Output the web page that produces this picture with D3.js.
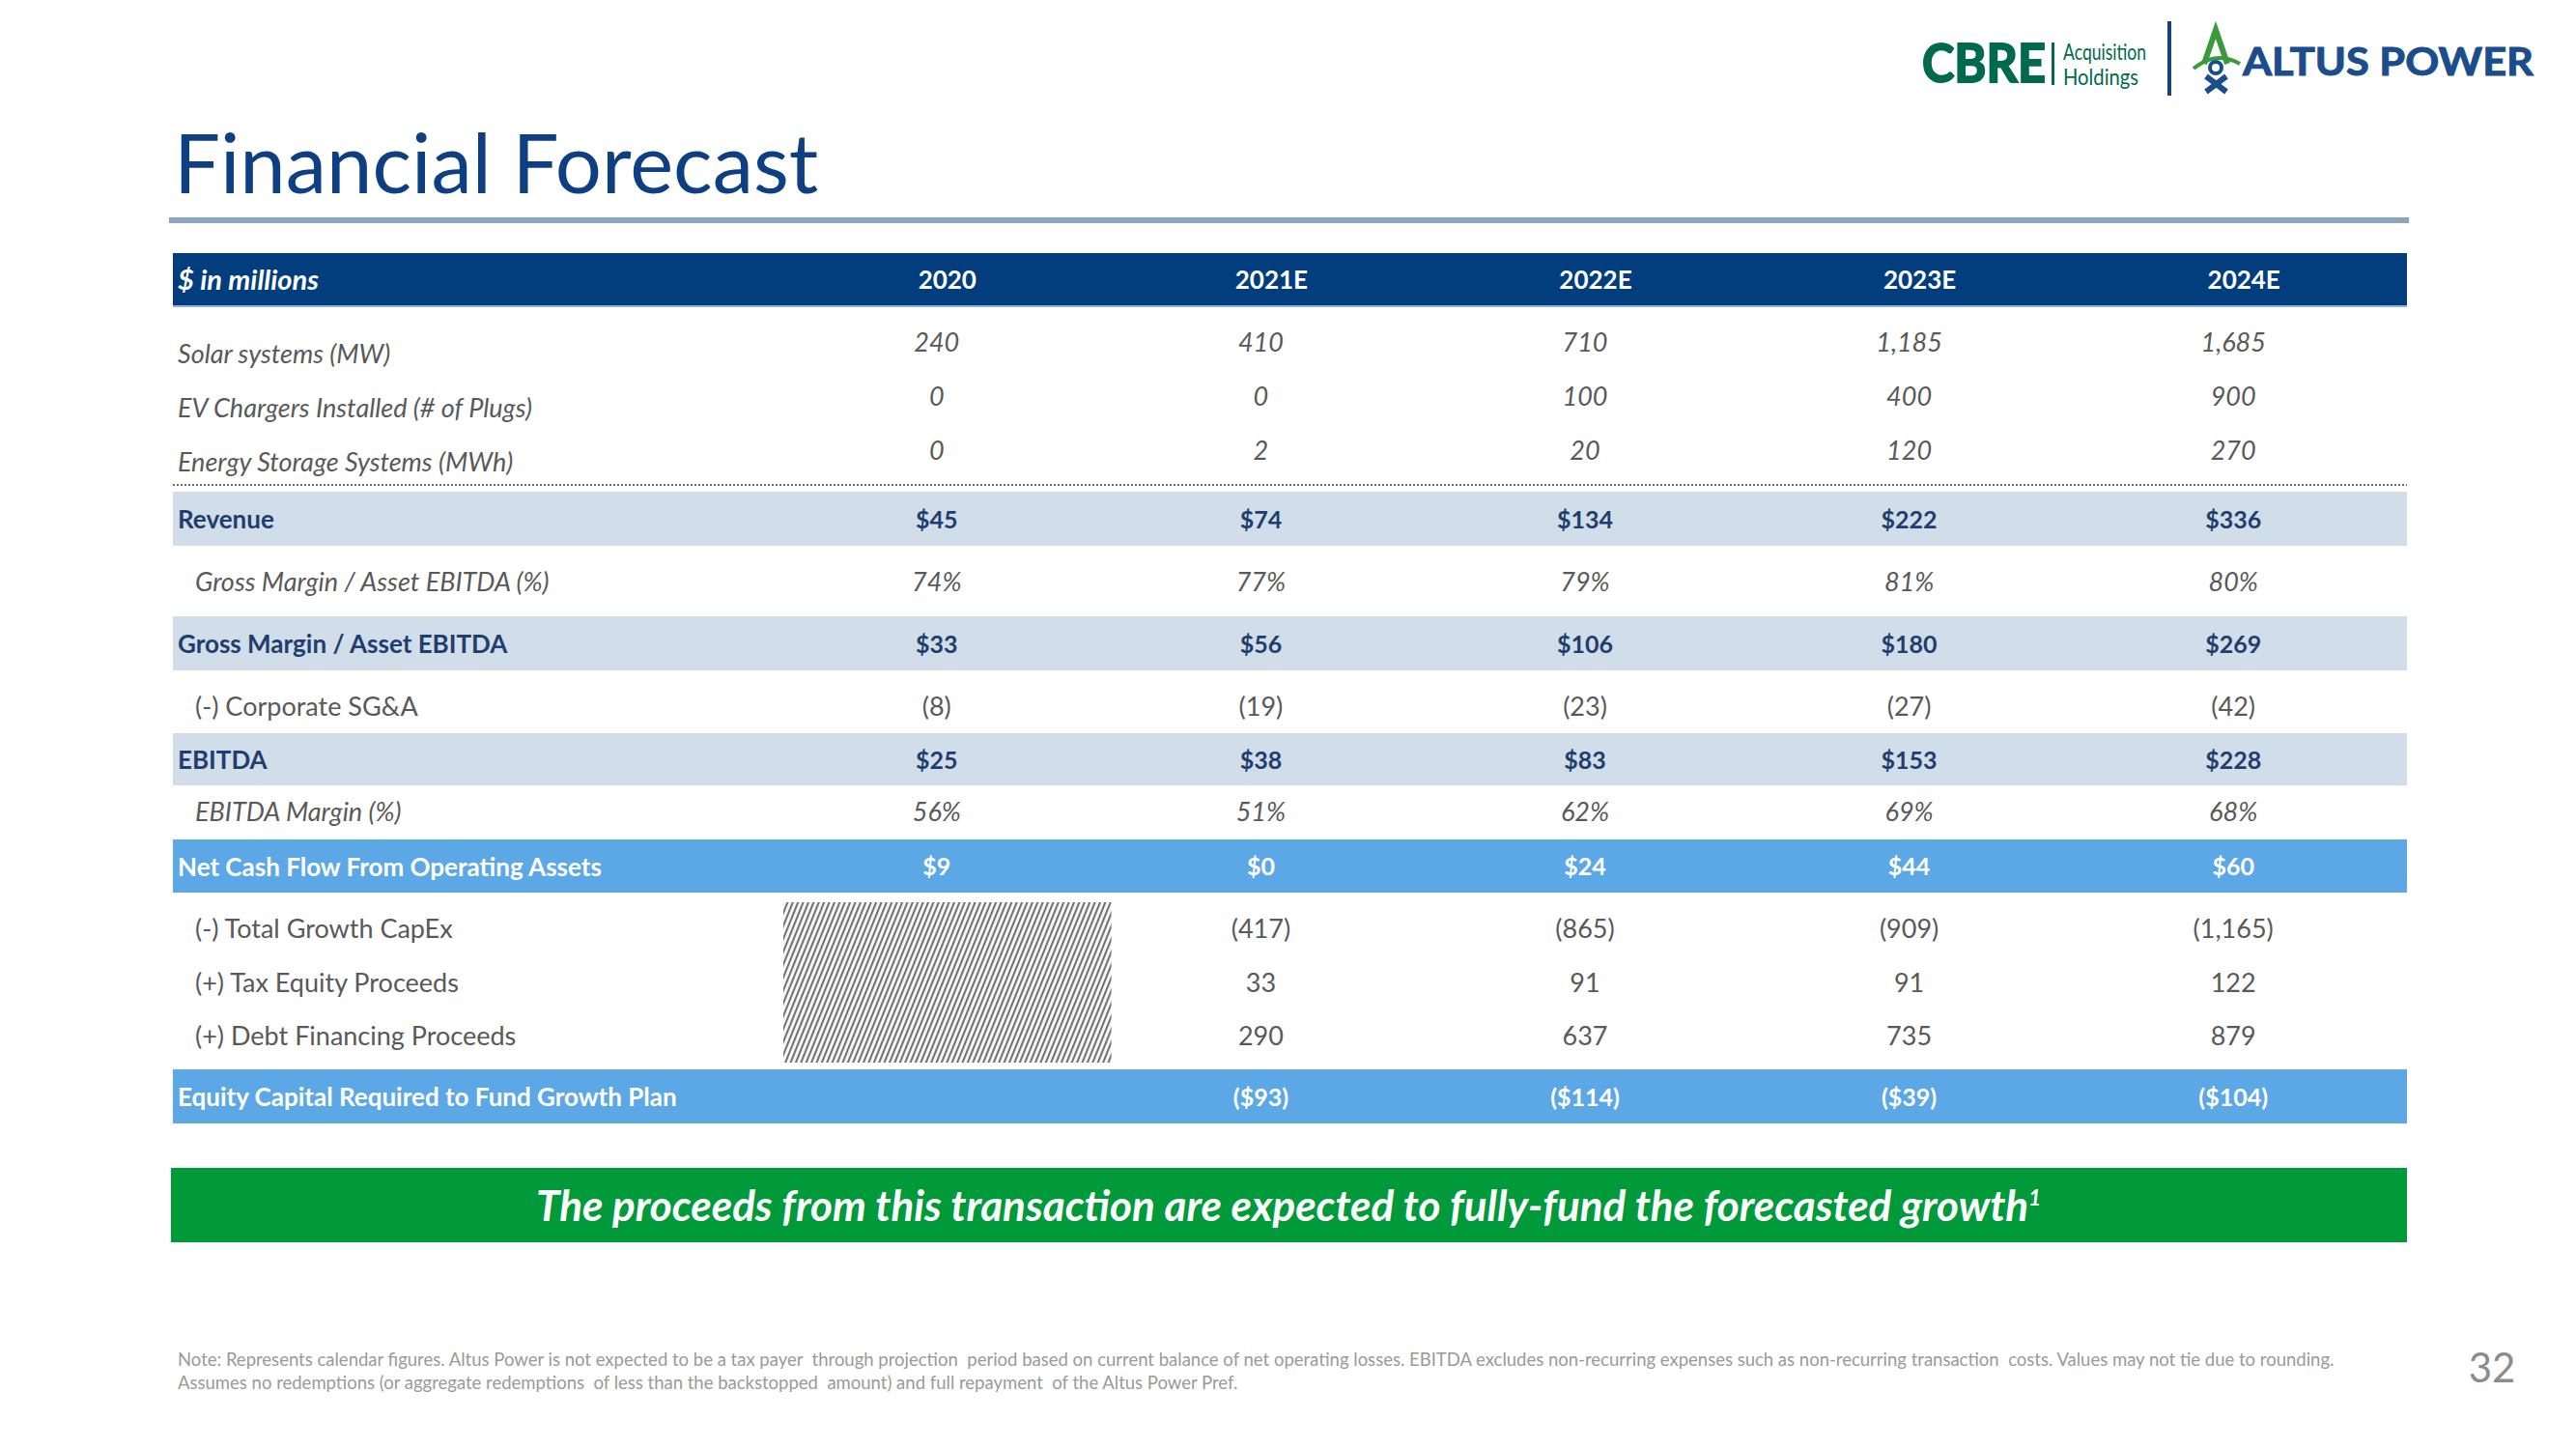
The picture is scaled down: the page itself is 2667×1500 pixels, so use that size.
<!DOCTYPE html>
<html><head><meta charset="utf-8">
<script src="https://cdn.jsdelivr.net/npm/d3@7"></script>
<style>
body{margin:0;background:#fff}
svg{display:block}
text{font-family:Lato,"Open Sans",sans-serif}
</style>
</head><body>
<svg id="c" width="2667" height="1500"></svg>
<script>
// ---------- DATA ----------
const years = ["2020", "2021E", "2022E", "2023E", "2024E"];
const solarMW = [240, 410, 710, 1185, 1685];
const evPlugs = [0, 0, 100, 400, 900];
const storageMWh = [0, 2, 20, 120, 270];
const revenue = [45, 74, 134, 222, 336];
const grossMarginPct = [74, 77, 79, 81, 80];
const grossMargin = [33, 56, 106, 180, 269];
const corporateSGA = [-8, -19, -23, -27, -42];
const ebitda = [25, 38, 83, 153, 228];
const ebitdaMarginPct = [56, 51, 62, 69, 68];
const netCashFlow = [9, 0, 24, 44, 60];
const growthCapex = [null, -417, -865, -909, -1165];
const taxEquity = [null, 33, 91, 91, 122];
const debtFinancing = [null, 290, 637, 735, 879];
const equityRequired = [null, -93, -114, -39, -104];

const titleText = "Financial Forecast";
const headerLabel = "$ in millions";
const calloutText = "The proceeds from this transaction are expected to fully-fund the forecasted growth";
const noteLines = [
  "Note: Represents calendar figures. Altus Power is not expected to be a tax payer  through projection  period based on current balance of net operating losses. EBITDA excludes non-recurring expenses such as non-recurring transaction  costs. Values may not tie due to rounding.",
  "Assumes no redemptions (or aggregate redemptions  of less than the backstopped  amount) and full repayment  of the Altus Power Pref."
];
const pageNumber = "32";

// ---------- FORMATS ----------
const num = d3.format(",");
const fmtNum = v => v == null ? "" : num(v);
const fmtMoney = v => v == null ? "" : (v < 0 ? "($" + num(-v) + ")" : "$" + num(v));
const fmtParen = v => v == null ? "" : (v < 0 ? "(" + num(-v) + ")" : num(v));
const fmtPct = v => v == null ? "" : v + "%";

// ---------- ROWS (content + kind) ----------
const rows = [
  {kind:"spacer"},
  {kind:"unit", label:"Solar systems (MW)", values:solarMW, fmt:fmtNum},
  {kind:"unit", label:"EV Chargers Installed (# of Plugs)", values:evPlugs, fmt:fmtNum},
  {kind:"unit", label:"Energy Storage Systems (MWh)", values:storageMWh, fmt:fmtNum, dotted:true},
  {kind:"spacer"},
  {kind:"band", label:"Revenue", values:revenue, fmt:fmtMoney},
  {kind:"sub", label:"Gross Margin / Asset EBITDA (%)", values:grossMarginPct, fmt:fmtPct, italic:true},
  {kind:"band", label:"Gross Margin / Asset EBITDA", values:grossMargin, fmt:fmtMoney},
  {kind:"sub", label:"(-) Corporate SG&A", values:corporateSGA, fmt:fmtParen},
  {kind:"band", label:"EBITDA", values:ebitda, fmt:fmtMoney},
  {kind:"sub", label:"EBITDA Margin (%)", values:ebitdaMarginPct, fmt:fmtPct, italic:true},
  {kind:"hl", label:"Net Cash Flow From Operating Assets", values:netCashFlow, fmt:fmtMoney},
  {kind:"spacer"},
  {kind:"sub", label:"(-) Total Growth CapEx", values:growthCapex, fmt:fmtParen, hatchStart:true},
  {kind:"sub", label:"(+) Tax Equity Proceeds", values:taxEquity, fmt:fmtParen},
  {kind:"sub", label:"(+) Debt Financing Proceeds", values:debtFinancing, fmt:fmtParen, hatchEnd:true},
  {kind:"spacer"},
  {kind:"hl", label:"Equity Capital Required to Fund Growth Plan", values:equityRequired, fmt:fmtMoney}
];
// layout: row heights (px) and text vertical shifts, in same order as rows
const rowHeights = [18, 56, 56, 55, 6, 56, 73, 56, 65, 54, 56, 55, 9, 56, 56, 56, 6, 56];
const rowShift   = [0, 0, 0, 0, 0, 1, 1, 1, 5, 1, 0, 1, 0, 1, 1, 0, 0, 1];

// ---------- STYLE ----------
const C = {
  navy:"#0e3f83", header:"#023e7d", rule:"#8ba5c6", band:"#d1dde8", bandText:"#1f3d6e",
  hl:"#5ca8e7", green:"#009a3a", gray:"#595959", note:"#9a9a9a"
};
const tableLeft = 179, tableRight = 2492, headerTop = 262, headerH = 56;

const svg = d3.select("#c");
const defs = svg.append("defs");
const pat = defs.append("pattern").attr("id","hatch").attr("patternUnits","userSpaceOnUse")
  .attr("width",5).attr("height",10).attr("patternTransform","rotate(22)");
pat.append("rect").attr("width",5).attr("height",10).attr("fill","#f6f6f6");
pat.append("rect").attr("width",1.9).attr("height",10).attr("fill","#6a6a6a");

// ---------- SCALES ----------
const x = d3.scaleBand().domain(years).range([813, 2491]);
const cx = d => x(d) + x.bandwidth() / 2;

// cumulative row tops
const tops = [];
let acc = headerTop + headerH;
rowHeights.forEach(h => { tops.push(acc); acc += h; });
rows.forEach((r, i) => { r.top = tops[i]; r.h = rowHeights[i]; r.mid = tops[i] + rowHeights[i] / 2 + rowShift[i]; });

// ---------- TITLE ----------
svg.append("text").attr("x",180).attr("y",200).attr("font-size",85).attr("fill",C.navy).text(titleText);
svg.append("rect").attr("x",175).attr("y",225).attr("width",2319).attr("height",6).attr("fill",C.rule);

// ---------- LOGOS ----------
const logo = svg.append("g");
logo.append("text").attr("x",1990).attr("y",85).attr("font-family","Liberation Sans, Arial, sans-serif")
  .attr("font-weight",700).attr("font-size",56).attr("fill","#006a4d").attr("stroke","#006a4d").attr("stroke-width",2)
  .attr("textLength",128).attr("lengthAdjust","spacingAndGlyphs").text("CBRE");
logo.append("rect").attr("x",2124).attr("y",44).attr("width",3).attr("height",44).attr("fill","#006a4d");
logo.append("text").attr("x",2136).attr("y",62).attr("font-size",24).attr("fill","#006a4d")
  .attr("textLength",86).attr("lengthAdjust","spacingAndGlyphs").text("Acquisition");
logo.append("text").attr("x",2136).attr("y",88).attr("font-size",24).attr("fill","#006a4d")
  .attr("textLength",78).attr("lengthAdjust","spacingAndGlyphs").text("Holdings");
logo.append("rect").attr("x",2244).attr("y",22).attr("width",4).attr("height",77).attr("fill","#1a3f7a");
// Altus icon
logo.append("path").attr("d","M2282,66 L2294,31 L2306,66").attr("fill","none").attr("stroke","#3a9a3c").attr("stroke-width",6).attr("stroke-linejoin","miter");
logo.append("path").attr("d","M2271,71 Q2294,52 2319,66").attr("fill","none").attr("stroke","#3a9a3c").attr("stroke-width",4);
logo.append("circle").attr("cx",2294).attr("cy",70).attr("r",6).attr("fill","#ffffff").attr("stroke","#1b4d8c").attr("stroke-width",4);
logo.append("path").attr("d","M2284,79 L2305,95 M2305,79 L2284,95").attr("stroke","#1b4d8c").attr("stroke-width",6);
logo.append("text").attr("x",2322).attr("y",78).attr("font-family","Liberation Sans, Arial, sans-serif")
  .attr("font-weight",700).attr("font-size",40).attr("fill","#1b4d8c").attr("stroke","#1b4d8c").attr("stroke-width",1)
  .attr("textLength",301).attr("lengthAdjust","spacingAndGlyphs").text("ALTUS POWER");

// ---------- HEADER ----------
svg.append("rect").attr("x",tableLeft).attr("y",headerTop).attr("width",tableRight-tableLeft).attr("height",headerH).attr("fill",C.header);
svg.append("rect").attr("x",tableLeft).attr("y",headerTop+headerH-2).attr("width",tableRight-tableLeft).attr("height",2).attr("fill","#8fb3dc");
svg.append("text").attr("x",184).attr("y",headerTop+headerH/2).attr("dy","0.35em")
  .attr("font-size",29).attr("font-weight",700).attr("font-style","italic").attr("fill","#fff").text(headerLabel);
svg.selectAll("text.yr").data(years).join("text").attr("class","yr")
  .attr("x",d=>cx(d)).attr("y",headerTop+headerH/2).attr("dy","0.35em").attr("text-anchor","middle")
  .attr("font-size",26).attr("font-weight",700).attr("fill","#fff").text(d=>d);

// ---------- BODY ----------
const body = rows.filter(r => r.kind !== "spacer");
const g = svg.append("g");

// backgrounds
g.selectAll("rect.bg").data(body.filter(r => r.kind==="band" || r.kind==="hl")).join("rect").attr("class","bg")
  .attr("x",tableLeft).attr("y",r=>r.top).attr("width",tableRight-tableLeft).attr("height",r=>r.h)
  .attr("fill",r=>r.kind==="band"?C.band:C.hl);

// hatched area under the 2020 column for the growth rows
const hs = rows.find(r=>r.hatchStart), he = rows.find(r=>r.hatchEnd);
g.append("rect").attr("x",x(years[0])-2).attr("y",hs.top+1).attr("width",x.bandwidth()+4).attr("height",he.top+he.h-hs.top-2)
  .attr("fill","url(#hatch)");

// dotted rule
const dr = rows.find(r=>r.dotted);
g.append("line").attr("x1",tableLeft).attr("x2",tableRight).attr("y1",dr.top+dr.h-1).attr("y2",dr.top+dr.h-1)
  .attr("stroke","#6d6d6d").attr("stroke-width",2).attr("stroke-dasharray","2,2");

const textFill = r => r.kind==="band" ? C.bandText : (r.kind==="hl" ? "#fff" : C.gray);
const isBold = r => r.kind==="band" || r.kind==="hl";
const isItalic = r => r.kind==="unit" || !!r.italic;

// labels
g.selectAll("text.lab").data(body).join("text").attr("class","lab")
  .attr("x",r => (r.kind==="sub") ? 202 : 184)
  .attr("y",r => r.mid + (r.kind==="unit" ? 3 : 0)).attr("dy","0.35em")
  .attr("font-size",r => isBold(r) ? 26 : 27)
  .attr("font-weight",r => isBold(r) ? 700 : 400)
  .attr("font-style",r => isItalic(r) ? "italic" : "normal")
  .attr("fill",textFill).text(r => r.label);

// values
body.forEach(r => {
  g.selectAll(null).data(years.map((y,i)=>({y, v:r.values[i]})).filter(d=>d.v!=null)).join("text")
    .attr("x",d=>cx(d.y)-11).attr("y",r.mid + (r.kind==="unit" ? -9 : 0)).attr("dy","0.35em")
    .attr("text-anchor","middle")
    .attr("font-size",isBold(r) ? 25 : 27)
    .attr("font-weight",isBold(r) ? 700 : 400)
    .attr("font-style",isItalic(r) ? "italic" : "normal")
    .attr("fill",textFill(r)).text(d=>r.fmt(d.v));
});

// ---------- CALLOUT ----------
svg.append("rect").attr("x",177).attr("y",1209).attr("width",2315).attr("height",77).attr("fill",C.green);
const ct = svg.append("text").attr("x",1334).attr("y",1249).attr("dy","0.35em").attr("text-anchor","middle")
  .attr("font-size",44).attr("font-weight",700).attr("font-style","italic").attr("fill","#fff");
ct.append("tspan").text(calloutText);
ct.append("tspan").attr("font-size",22).attr("dy","-16").text("1");

// ---------- NOTE ----------
svg.selectAll("text.note").data(noteLines).join("text").attr("class","note")
  .attr("x",184).attr("y",(d,i)=>1414+i*24).attr("font-size",18.5).attr("fill",C.note)
  .style("white-space","pre").text(d=>d);
svg.append("text").attr("x",2580).attr("y",1431).attr("text-anchor","middle").attr("font-size",42).attr("fill","#8c8c8c").text(pageNumber);
</script>
</body></html>
